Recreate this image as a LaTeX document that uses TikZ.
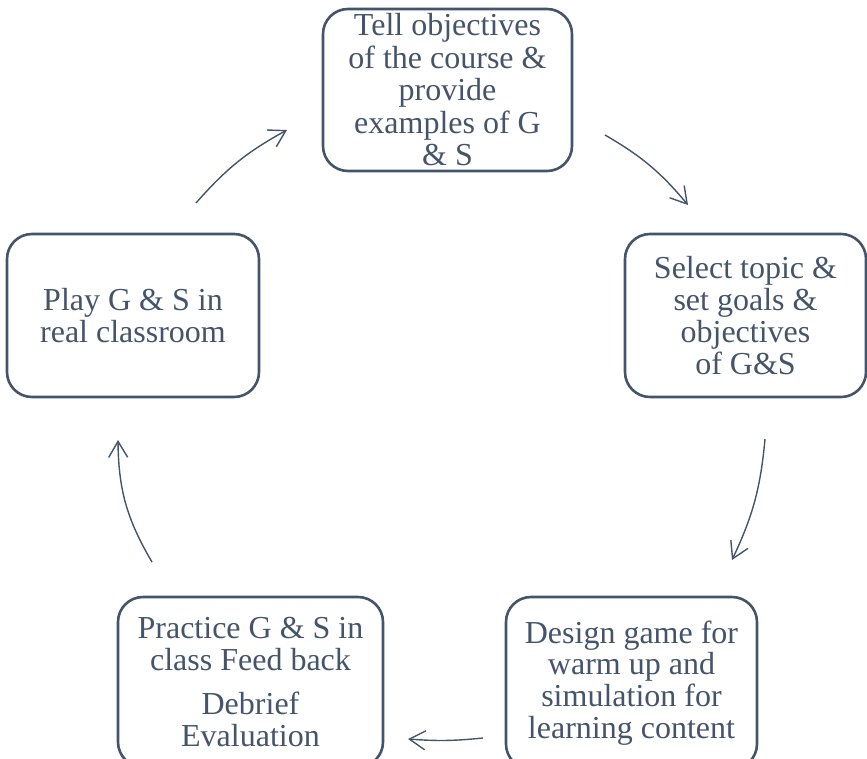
\documentclass[tikz,border=0pt]{standalone}
\usepackage{fontspec}
\setmainfont{Liberation Serif}
\usetikzlibrary{arrows.meta}
\definecolor{slate}{HTML}{44546A}
\begin{document}
\begin{tikzpicture}[x=1pt,y=-1pt,
  stepbox/.style={draw=slate, line width=2.6pt, rounded corners=25pt, text=slate,
    align=center, inner sep=0pt, font=\fontsize{32}{31.7}\selectfont},
  flow/.style={draw=slate, line width=1.4pt, -{Straight Barb[length=16pt,width=19pt,line width=1.4pt]}}]
\useasboundingbox (0,0) rectangle (867,758);
\node[stepbox, minimum width=249pt, minimum height=162pt, font=\fontsize{32}{32.5}\selectfont] (top) at (447.5,90)
  {Tell objectives\\of the course \&\\provide\\examples of G\\\& S};
\node[stepbox, minimum width=241pt, minimum height=163pt] (right) at (745.5,315.5)
  {Select topic \&\\set goals \&\\objectives\\of G\&S};
\node[stepbox, minimum width=252pt, minimum height=163pt] (left) at (133,315.5)
  {Play G \& S in\\real classroom};
\node[stepbox, minimum width=251pt, minimum height=172pt] (bright) at (631.5,683)
  {Design game for\\warm up and\\simulation for\\learning content};
\node[stepbox, minimum width=265pt, minimum height=170pt] (bleft) at (250.5,682)
  {Practice G \& S in\\class Feed back\\[12pt]Debrief\\Evaluation};
\coordinate (a1s) at (196,203); \coordinate (a1e) at (287,130);
\coordinate (a2s) at (605,135); \coordinate (a2e) at (688,205);
\coordinate (a3s) at (765,439); \coordinate (a3e) at (732,560);
\coordinate (a4s) at (483,738); \coordinate (a4e) at (408,739);
\coordinate (a5s) at (152,562); \coordinate (a5e) at (118,440);
\draw[flow] (a1s) to[bend left=10] (a1e);
\draw[flow] (a2s) to[bend left=10] (a2e);
\draw[flow] (a3s) to[bend left=10] (a3e);
\draw[flow] (a4s) to[bend left=5] (a4e);
\draw[flow] (a5s) to[bend left=15] (a5e);
\end{tikzpicture}
\end{document}
